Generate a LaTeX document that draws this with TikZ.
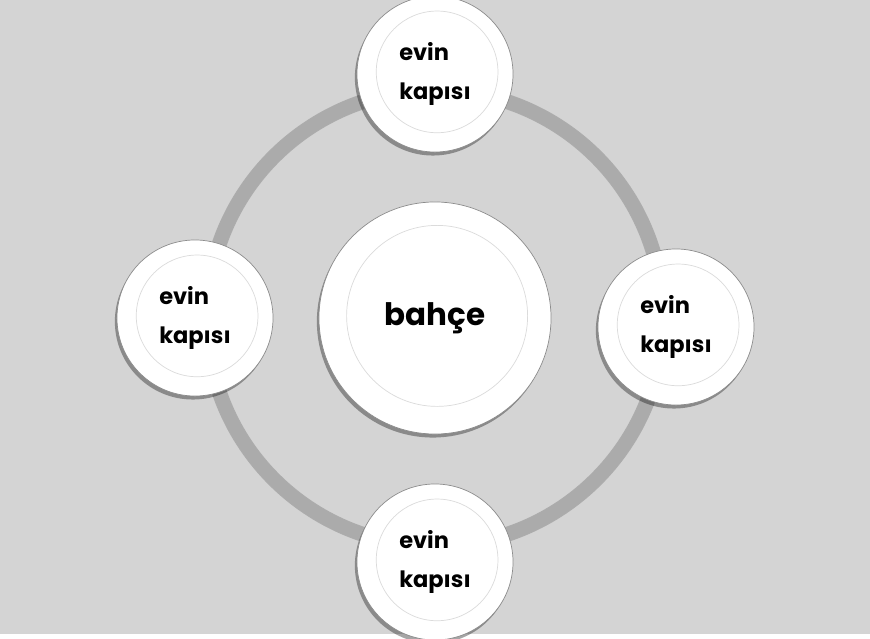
\documentclass[tikz,border=0pt]{standalone}
\usepackage{fontspec}
\setmainfont{Poppins}
\usetikzlibrary{shadows}
\definecolor{bggray}{HTML}{D4D4D4}
\definecolor{ringgray}{HTML}{ABABAB}
\pgfdeclareradialshading{knobshade}{\pgfpoint{-4bp}{-4bp}}{color(0bp)=(white); color(35bp)=(white); color(39bp)=(black!7); color(46bp)=(black!16); color(50bp)=(black!34)}
\tikzset{
  knob/.style={circle, minimum size=#1, inner sep=0pt, align=left,
    draw=black!45, line width=.5pt, shading=knobshade,
    drop shadow={shadow xshift=-1.5pt, shadow yshift=-2.5pt, opacity=.35, fill=black},
    path picture={\fill[white, draw=black!14] ([xshift=1.5pt, yshift=1.5pt]path picture bounding box.center) circle[radius=.39*#1];},
    font=\bfseries\fontsize{16}{28}\selectfont},
  knob/.default=3.9cm,
  ring/.style={draw=black!32, double=ringgray, double distance=9.5pt, line width=.6pt}
}

\begin{document}
\begin{tikzpicture}[x=0.025cm, y=-0.025cm]
\fill[bggray] (0,0) rectangle (870,634);
\fill[white] (0,634) rectangle (870,639);
\useasboundingbox (0,0) rectangle (870,639);
\coordinate (mid) at (435,318);
\draw[ring] (mid) circle[radius=228];
\node[knob=5.8cm, font=\bfseries\fontsize{22}{28}\selectfont] (garden) at (mid) {bahçe};
\node[knob] (doorN) at (435,74) {evin\\kapısı};
\node[knob] (doorW) at (195,318) {evin\\kapısı};
\node[knob] (doorE) at (676,327) {evin\\kapısı};
\node[knob] (doorS) at (435,562) {evin\\kapısı};
\end{tikzpicture}
\end{document}
